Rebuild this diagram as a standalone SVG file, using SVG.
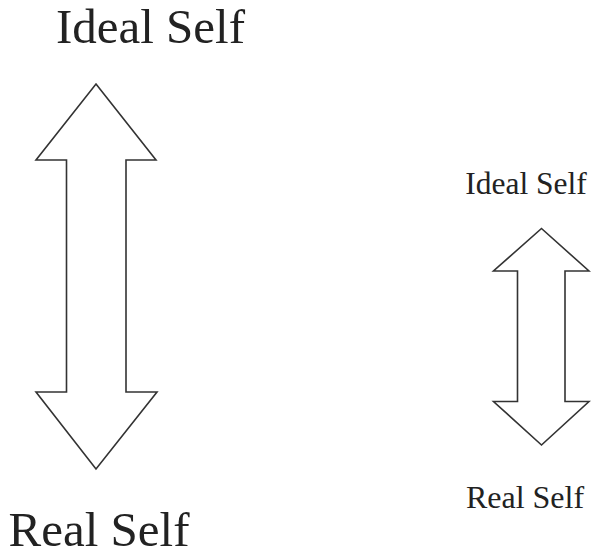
<svg xmlns="http://www.w3.org/2000/svg" width="591" height="552" viewBox="0 0 591 552">
<style>
.t{font-family:"Liberation Serif","Times New Roman",serif;fill:#222}
.a{fill:#fff;stroke:#333;stroke-width:1.6;stroke-linejoin:miter}
</style>
<rect width="591" height="552" fill="#fff"/>
<g id="left-ideal"><text class="t" x="150.5" y="43" font-size="49" text-anchor="middle">Ideal Self</text></g>
<g id="left-arrow"><polygon class="a" points="96,84 156,160 126,160 126,392 157,392 96,469 36,392 66.5,392 66.5,160 36,160"/></g>
<g id="left-real"><text class="t" x="99" y="546" font-size="49" text-anchor="middle">Real Self</text></g>
<g id="right-ideal"><text class="t" x="526" y="194" font-size="31.5" text-anchor="middle">Ideal Self</text></g>
<g id="right-arrow"><polygon class="a" points="541.5,228.5 589,271 565,271 565,401.5 589,401.5 541.5,445 493.5,401.5 517.5,401.5 517.5,271 493.5,271"/></g>
<g id="right-real"><text class="t" x="525" y="507.5" font-size="32" text-anchor="middle">Real Self</text></g>
<g id="connectors"></g>
</svg>
